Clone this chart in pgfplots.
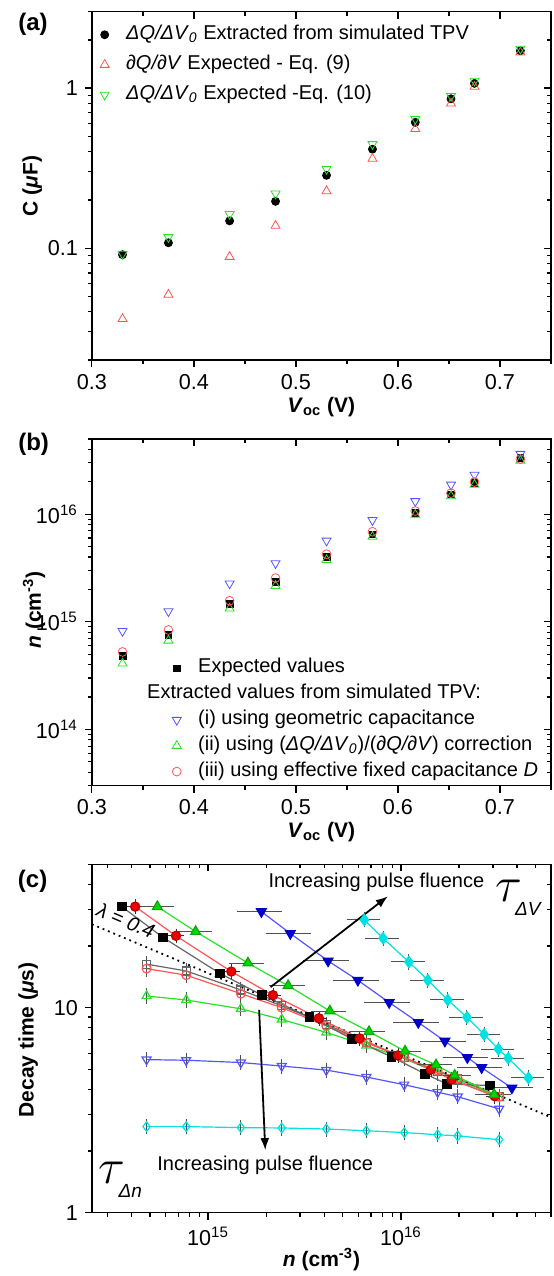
\documentclass[border=0pt]{standalone}
\usepackage{fontspec}
\setmainfont{Liberation Sans}
\usepackage{pgfplots}
\pgfplotsset{compat=1.18}
\usetikzlibrary{arrows.meta}

\definecolor{lred}{RGB}{255,85,85}
\definecolor{lgreen}{RGB}{40,225,40}
\definecolor{lblue}{RGB}{85,85,255}
\definecolor{fred}{RGB}{235,0,0}
\definecolor{fgreen}{RGB}{0,215,0}
\definecolor{fblue}{RGB}{0,0,200}
\definecolor{fcyan}{RGB}{0,225,225}
\definecolor{ebar}{RGB}{80,80,80}

\pgfplotsset{
  frame/.style={
    scale only axis, width=229.55pt,
    axis line style={line width=0.7pt},
    every tick/.style={black, line width=0.6pt},
    major tick length=3.5pt, minor tick length=2pt,
  },
  panel/.style={
    frame, tick align=outside, xtick pos=bottom, ytick pos=left,
    tick label style={font=\fontsize{10.8}{12}\selectfont},
    label style={font=\bfseries\fontsize{10.5}{12}\selectfont},
    clip=false,
  },
  mirror/.style={
    frame, tick align=inside, xtick pos=top, ytick pos=right,
    xticklabels={}, yticklabels={},
  },
  lgd/.style={
    legend cell align=left,
    legend image code/.code={\draw[mark repeat=2,mark phase=2,##1] plot coordinates {(0pt,0pt)(6pt,0pt)(12pt,0pt)}; \path (0pt,0pt) (15.5pt,0pt);},
    legend style={draw=none, fill=none, inner xsep=0pt, inner ysep=0pt, anchor=north west,
      font=\fontsize{10}{12}\selectfont, nodes={inner sep=1pt, text height=7pt, text depth=2.5pt}},
  },
  error bars/ebx/.style={error bar style={ebar, line width=0.5pt}, error mark options={ebar, mark size=2pt, line width=0.5pt}},
}

\begin{document}
\begin{tikzpicture}
\useasboundingbox (0pt,0pt) rectangle (276.5pt,-638pt);

% ---------------- (a)
\node[font=\bfseries\fontsize{12}{14}\selectfont] at (16.5pt,-12pt) {(a)};
\begin{axis}[panel, at={(45.95pt,-5.85pt)}, anchor=north west, height=174.15pt,
  ymode=log, xmin=0.3, xmax=0.75, ymin=0.02, ymax=3,
  xtick={0.3,0.4,0.5,0.6,0.7}, xticklabels={0.3,0.4,0.5,0.6,0.7},
  minor xtick={0.35,0.45,0.55,0.65,0.75},
  ytick={0.1,1}, yticklabels={0.1,1},
  minor ytick={0.02,0.03,0.04,0.05,0.06,0.07,0.08,0.09,0.2,0.3,0.4,0.5,0.6,0.7,0.8,0.9,2,3},
  xlabel={\textit{V}\textsubscript{oc} (V)},
  ylabel={C (\textit{μ}F)},
  xlabel style={at={(axis description cs:0.5,-0.150)}, anchor=base},
  ylabel style={at={(axis description cs:-0.130,0.5)}, anchor=center},
  lgd, legend style={at={(axis description cs:0,0.968)}, row sep=3.5pt},
]
\addplot[only marks, mark=*, mark size=2pt, black] coordinates {
  (0.33,0.091) (0.375,0.108) (0.435,0.148) (0.48,0.196) (0.53,0.285)
  (0.575,0.415) (0.617,0.611) (0.652,0.857) (0.675,1.07) (0.72,1.71)};
\addlegendentry{\textit{ΔQ/ΔV}\textsubscript{\textit{0}} Extracted from simulated TPV}
\addplot[only marks, mark=triangle, mark size=2.6pt, lred] coordinates {
  (0.33,0.0361) (0.375,0.0512) (0.435,0.0883) (0.48,0.138) (0.53,0.227)
  (0.575,0.362) (0.617,0.556) (0.652,0.802) (0.675,1.02) (0.72,1.67)};
\addlegendentry{\textit{∂Q/∂V} Expected - Eq. (9)}
\addplot[only marks, mark=triangle, mark size=2.6pt, lgreen, mark options={rotate=180}] coordinates {
  (0.33,0.092) (0.375,0.117) (0.435,0.163) (0.48,0.219) (0.53,0.312)
  (0.575,0.446) (0.617,0.641) (0.652,0.891) (0.675,1.11) (0.72,1.76)};
\addlegendentry{\textit{ΔQ/ΔV}\textsubscript{\textit{0}} Expected -Eq. (10)}
\end{axis}
\begin{axis}[mirror, at={(45.95pt,-5.85pt)}, anchor=north west, height=174.15pt,
  ymode=log, xmin=0.3, xmax=0.75, ymin=0.02, ymax=3,
  xtick={0.3,0.4,0.5,0.6,0.7}, minor xtick={0.35,0.45,0.55,0.65,0.75},
  ytick={0.1,1},
  minor ytick={0.02,0.03,0.04,0.05,0.06,0.07,0.08,0.09,0.2,0.3,0.4,0.5,0.6,0.7,0.8,0.9,2,3}]
\addplot[draw=none] coordinates {(0.5,0.1)};
\end{axis}

% ---------------- (b)
\node[font=\bfseries\fontsize{12}{14}\selectfont] at (16.8pt,-222.2pt) {(b)};
\begin{axis}[panel, at={(45.95pt,-219.5pt)}, anchor=north west, height=173.35pt,
  ymode=log, xmin=0.3, xmax=0.75, ymin=3e13, ymax=5e16,
  xtick={0.3,0.4,0.5,0.6,0.7}, xticklabels={0.3,0.4,0.5,0.6,0.7},
  minor xtick={0.35,0.45,0.55,0.65,0.75},
  ytick={1e14,1e15,1e16}, yticklabels={10\textsuperscript{14},10\textsuperscript{15},10\textsuperscript{16}},
  minor ytick={3e13,4e13,5e13,6e13,7e13,8e13,9e13,2e14,3e14,4e14,5e14,6e14,7e14,8e14,9e14,
    2e15,3e15,4e15,5e15,6e15,7e15,8e15,9e15,2e16,3e16,4e16,5e16},
  xlabel={\textit{V}\textsubscript{oc} (V)},
  ylabel={\textit{n} (cm\textsuperscript{-3})},
  xlabel style={at={(axis description cs:0.5,-0.150)}, anchor=base},
  ylabel style={at={(axis description cs:-0.126,0.507)}, anchor=center},
  lgd, legend style={at={(axis description cs:0.157,0.3727)}, row sep=1.4pt},
]
\addplot[only marks, mark=square*, mark size=1.7pt, black] coordinates {
  (0.33,4.8e14) (0.375,7.6e14) (0.435,1.47e15) (0.48,2.34e15) (0.53,4.04e15)
  (0.575,6.5e15) (0.617,1.03e16) (0.652,1.53e16) (0.675,1.95e16) (0.72,3.31e16)};
\addlegendentry{Expected values}
\addlegendimage{empty legend}
\addlegendentry{\hspace*{-25.5pt}Extracted values from simulated TPV:}
\addplot[only marks, mark=triangle, mark size=2.6pt, lblue, mark options={rotate=180}] coordinates {
  (0.33,8.2e14) (0.375,1.25e15) (0.435,2.27e15) (0.48,3.5e15) (0.53,5.67e15)
  (0.575,8.8e15) (0.617,1.32e16) (0.652,1.88e16) (0.675,2.32e16) (0.72,3.63e16)};
\addlegendentry{(i) using geometric capacitance}
\addplot[only marks, mark=triangle, mark size=2.6pt, lgreen] coordinates {
  (0.33,4.1e14) (0.375,6.7e14) (0.435,1.33e15) (0.48,2.16e15) (0.53,3.76e15)
  (0.575,6.18e15) (0.617,9.9e15) (0.652,1.47e16) (0.675,1.88e16) (0.72,3.15e16)};
\addlegendentry{(ii) using (\textit{ΔQ/ΔV}\textsubscript{\textit{0}})/(\textit{∂Q/∂V}) correction}
\addplot[only marks, mark=o, mark size=2.2pt, lred] coordinates {
  (0.33,5.25e14) (0.375,8.4e14) (0.435,1.57e15) (0.48,2.55e15) (0.53,4.25e15)
  (0.575,6.87e15) (0.617,1.07e16) (0.652,1.57e16) (0.675,1.99e16) (0.72,3.26e16)};
\addlegendentry{(iii) using effective fixed capacitance \textit{D}}
\end{axis}
\begin{axis}[mirror, at={(45.95pt,-219.5pt)}, anchor=north west, height=173.35pt,
  ymode=log, xmin=0.3, xmax=0.75, ymin=3e13, ymax=5e16,
  xtick={0.3,0.4,0.5,0.6,0.7}, minor xtick={0.35,0.45,0.55,0.65,0.75},
  ytick={1e14,1e15,1e16},
  minor ytick={3e13,4e13,5e13,6e13,7e13,8e13,9e13,2e14,3e14,4e14,5e14,6e14,7e14,8e14,9e14,
    2e15,3e15,4e15,5e15,6e15,7e15,8e15,9e15,2e16,3e16,4e16,5e16}]
\addplot[draw=none] coordinates {(0.5,1e15)};
\end{axis}

% ---------------- (c)
\node[font=\bfseries\fontsize{12}{14}\selectfont] at (16.3pt,-440.8pt) {(c)};
\begin{axis}[panel, at={(45.95pt,-432.15pt)}, anchor=north west, height=174.2pt,
  xmode=log, ymode=log, xmin=2.5e14, xmax=6e16, ymin=1, ymax=50,
  xtick={1e15,1e16}, xticklabels={10\textsuperscript{15},10\textsuperscript{16}},
  minor xtick={3e14,4e14,5e14,6e14,7e14,8e14,9e14,2e15,3e15,4e15,5e15,6e15,7e15,8e15,9e15,2e16,3e16,4e16,5e16,6e16},
  ytick={1,10}, yticklabels={1,10},
  minor ytick={2,3,4,5,6,7,8,9,20,30,40,50},
  xlabel={\textit{n} (cm\textsuperscript{-3})},
  ylabel={Decay time (\textit{μ}s)},
  xlabel style={at={(axis description cs:0.5,-0.155)}, anchor=base},
  ylabel style={at={(axis description cs:-0.139,0.496)}, anchor=center},
]
% open symbols: tau_dn
\addplot[lblue, line width=0.6pt, mark=triangle, mark size=2.6pt, mark options={rotate=180, fill=white, solid},
  error bars/.cd, y dir=both, y explicit relative, ebx] coordinates {
  (4.8e14,5.58) +- (0,0.04) (7.7e14,5.54) +- (0,0.04) (1.48e15,5.40) +- (0,0.04) (2.41e15,5.19) +- (0,0.04)
  (4.10e15,4.96) +- (0,0.04) (6.62e15,4.59) +- (0,0.04) (1.04e16,4.21) +- (0,0.04) (1.55e16,3.87) +- (0,0.04)
  (1.97e16,3.68) +- (0,0.04) (3.23e16,3.21) +- (0,0.04)};
\addplot[fcyan, line width=0.6pt, mark=diamond, mark size=2.4pt, mark options={fill=white, solid},
  error bars/.cd, y dir=both, y explicit relative, ebx] coordinates {
  (4.8e14,2.63) +- (0,0.04) (7.7e14,2.63) +- (0,0.04) (1.48e15,2.60) +- (0,0.04) (2.41e15,2.59) +- (0,0.04)
  (4.10e15,2.56) +- (0,0.04) (6.62e15,2.51) +- (0,0.04) (1.04e16,2.46) +- (0,0.04) (1.55e16,2.40) +- (0,0.04)
  (1.97e16,2.37) +- (0,0.04) (3.23e16,2.27) +- (0,0.04)};
\addplot[lgreen, line width=0.6pt, mark=triangle, mark size=2.6pt, mark options={fill=white, solid},
  error bars/.cd, y dir=both, y explicit relative, ebx] coordinates {
  (4.8e14,11.4) +- (0,0.04) (7.7e14,10.9) +- (0,0.04) (1.48e15,9.87) +- (0,0.04) (2.41e15,8.76) +- (0,0.04)
  (4.10e15,7.57) +- (0,0.04) (6.62e15,6.54) +- (0,0.04) (1.04e16,5.65) +- (0,0.04) (1.55e16,4.80) +- (0,0.04)
  (1.97e16,4.40) +- (0,0.04) (3.23e16,3.62) +- (0,0.04)};
\addplot[black!60, line width=0.6pt, mark=square, mark size=2pt, mark options={fill=white, solid},
  error bars/.cd, y dir=both, y explicit relative, ebx] coordinates {
  (4.8e14,16.3) +- (0,0.05) (7.7e14,15.1) +- (0,0.04) (1.48e15,12.2) +- (0,0.04) (2.41e15,10.2) +- (0,0.04)
  (4.10e15,8.28) +- (0,0.04) (6.62e15,6.79) +- (0,0.04) (1.04e16,5.69) +- (0,0.04) (1.55e16,4.90) +- (0,0.04)
  (1.97e16,4.49) +- (0,0.04) (3.23e16,3.68) +- (0,0.04)};
\addplot[lred, line width=0.6pt, mark=o, mark size=2.2pt, mark options={fill=white, solid},
  error bars/.cd, y dir=both, y explicit relative, ebx] coordinates {
  (4.8e14,15.5) +- (0,0.05) (7.7e14,14.4) +- (0,0.04) (1.48e15,11.7) +- (0,0.04) (2.41e15,10.0) +- (0,0.04)
  (4.10e15,8.15) +- (0,0.04) (6.62e15,6.73) +- (0,0.04) (1.04e16,5.71) +- (0,0.04) (1.55e16,4.93) +- (0,0.04)
  (1.97e16,4.51) +- (0,0.04) (3.23e16,3.68) +- (0,0.04)};
% lambda = 0.4 guide
\addplot[black, dotted, line width=0.9pt] coordinates {(2.5e14,25.5) (6e16,2.92)};
% filled symbols: tau_dV
\addplot[black!60, line width=0.6pt, mark=square*, mark size=2.1pt, mark options={fill=black, draw=black}] coordinates {
  (3.57e14,31.1) (5.84e14,22.0) (1.15e15,14.7) (1.91e15,11.5) (3.35e15,9.0)
  (5.57e15,7.05) (8.95e15,5.75) (1.33e16,4.76) (1.73e16,4.25) (2.89e16,4.17)};
\addplot[lred, line width=0.6pt, mark=*, mark size=2.3pt, mark options={fill=fred, draw=fred!80!black},
  error bars/.cd, x dir=both, y dir=both, x explicit relative, y explicit relative,
  error bar style={black!80, line width=0.5pt}, error mark options={black!80, mark size=1pt}] coordinates {
  (4.19e14,31.1) +- (0.08,0.06) (6.82e14,22.4) +- (0.08,0.06) (1.32e15,15.0) +- (0.08,0.06) (2.17e15,11.5) +- (0.08,0.06)
  (3.76e15,8.87) +- (0.08,0.06) (6.11e15,7.08) +- (0.08,0.06) (9.66e15,5.85) +- (0.08,0.06) (1.43e16,4.99) +- (0.08,0.06)
  (1.83e16,4.46) +- (0.08,0.06) (3.06e16,3.70) +- (0.08,0.06)};
\addplot[lgreen, line width=0.6pt, mark=triangle*, mark size=2.8pt, mark options={fill=fgreen, draw=fgreen!80!black},
  error bars/.cd, x dir=both, x explicit relative, ebx] coordinates {
  (5.46e14,31.1) +- (0.16,0) (8.62e14,23.5) +- (0.16,0) (1.61e15,16.5) +- (0.16,0) (2.60e15,12.8) +- (0.16,0)
  (4.28e15,9.63) +- (0.16,0) (6.83e15,7.64) +- (0.16,0) (1.05e16,6.14) +- (0.16,0) (1.52e16,5.26) +- (0.16,0)
  (1.90e16,4.68) +- (0.16,0) (3.04e16,3.77) +- (0.16,0)};
\addplot[lblue, line width=0.6pt, mark=triangle*, mark size=2.8pt, mark options={rotate=180, fill=fblue, draw=fblue},
  error bars/.cd, x dir=both, x explicit relative, ebx] coordinates {
  (1.89e15,29.4) +- (0.22,0) (2.67e15,23.0) +- (0.22,0) (4.19e15,16.9) +- (0.22,0) (5.98e15,13.6) +- (0.22,0)
  (8.69e15,10.6) +- (0.22,0) (1.23e16,8.47) +- (0.22,0) (1.69e16,6.87) +- (0.22,0) (2.21e16,5.71) +- (0.22,0)
  (2.62e16,5.10) +- (0.22,0) (3.76e16,4.06) +- (0.22,0)};
\addplot[fcyan, line width=0.6pt, mark=diamond*, mark size=2.8pt, mark options={fill=fcyan, draw=fcyan},
  error bars/.cd, x dir=both, y dir=both, x explicit relative, y explicit relative, ebx] coordinates {
  (6.46e15,26.8) +- (0.15,0.04) (8.08e15,21.8) +- (0.15,0.04) (1.10e16,16.7) +- (0.15,0.04) (1.38e16,13.6) +- (0.15,0.04)
  (1.75e16,10.9) +- (0.15,0.04) (2.20e16,8.97) +- (0.15,0.04) (2.70e16,7.40) +- (0.15,0.04) (3.20e16,6.28) +- (0.15,0.04)
  (3.60e16,5.67) +- (0.15,0.04) (4.58e16,4.54) +- (0.15,0.04)};
% annotations
\node[rotate=-23, font=\fontsize{10}{12}\selectfont\itshape] at (axis cs:3.75e14,26.6) {λ = 0.4};
\draw[-{Latex[length=6pt,width=4.5pt]}, line width=0.9pt] (axis cs:2.11e15,12.6) -- (axis cs:8.55e15,34.9);
\draw[-{Latex[length=6pt,width=4.5pt]}, line width=0.9pt] (axis cs:1.84e15,9.75) -- (axis cs:1.98e15,2.02);
\node[font=\fontsize{10}{12}\selectfont] at (axis cs:7.46e15,41) {Increasing pulse fluence};
\node[font=\fontsize{10}{12}\selectfont] at (axis cs:1.98e15,1.70) {Increasing pulse fluence};
\node[anchor=base west, inner sep=0pt] at (axis description cs:0.878,0.892)
  {\fontsize{23}{23}\selectfont$\tau$\kern-3.5pt\raisebox{-7pt}{\fontsize{9.5}{11}\selectfont\textit{ΔV}}};
\node[anchor=base west, inner sep=0pt] at (axis description cs:0.0144,0.083)
  {\fontsize{23}{23}\selectfont$\tau$\kern-3.5pt\raisebox{-7pt}{\fontsize{9.5}{11}\selectfont\textit{Δn}}};
\end{axis}
\begin{axis}[mirror, at={(45.95pt,-432.15pt)}, anchor=north west, height=174.2pt,
  xmode=log, ymode=log, xmin=2.5e14, xmax=6e16, ymin=1, ymax=50,
  xtick={1e15,1e16},
  minor xtick={3e14,4e14,5e14,6e14,7e14,8e14,9e14,2e15,3e15,4e15,5e15,6e15,7e15,8e15,9e15,2e16,3e16,4e16,5e16,6e16},
  ytick={1,10}, minor ytick={2,3,4,5,6,7,8,9,20,30,40,50}]
\addplot[draw=none] coordinates {(1e15,5)};
\end{axis}
\end{tikzpicture}
\end{document}
